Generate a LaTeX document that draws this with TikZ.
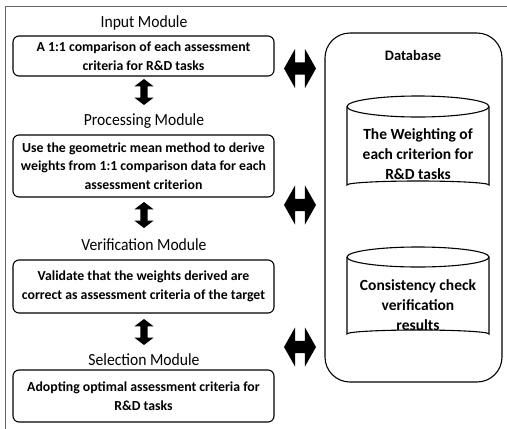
\documentclass[tikz,border=0pt]{standalone}
\usepackage{fontspec}
\usepackage{graphicx}
\setmainfont{Carlito}
\usetikzlibrary{shapes.arrows}
\newcommand{\ttl}[1]{\scalebox{0.92}[1]{#1}}
\begin{document}
\begin{tikzpicture}[x=1pt,y=-1pt,
 modbox/.style={draw, line width=1.1pt, rounded corners=6pt, minimum width=261pt, align=center, font=\bfseries\fontsize{13.8}{18.5}\selectfont, inner sep=0pt},
 title/.style={font=\fontsize{17}{19}\selectfont},
 harrow/.style={double arrow, fill=black, draw=none, double arrow head extend=13.5pt, inner sep=6pt, minimum height=32pt, double arrow tip angle=121},
 varrow/.style={double arrow, fill=black, draw=none, rotate=90, double arrow head extend=6pt, inner sep=3.5pt, minimum height=26pt, double arrow tip angle=105},
 cyltext/.style={align=center, font=\bfseries\fontsize{15.5}{20}\selectfont},
 cyl/.style={line width=1.1pt}]
\useasboundingbox (0,0) rectangle (507,429);
\draw[black!60, line width=1pt] (5,429) -- (5,6) -- (507,6);

% left modules
\node[title] (t1) at (144,23) {\ttl{Input Module}};
\node[modbox, minimum height=40pt] (b1) at (143.5,56) {A 1:1 comparison of each assessment\\criteria for R\&D tasks};
\node[varrow] (v1) at (144,92) {};
\node[title] (t2) at (144,121) {\ttl{Processing Module}};
\node[modbox, minimum height=62pt] (b2) at (143.5,166) {Use the geometric mean method to derive\\weights from 1:1 comparison data for each\\assessment criterion};
\node[varrow] (v2) at (144,215) {};
\node[title] (t3) at (144,245) {\ttl{Verification Module}};
\node[modbox, minimum height=53pt] (b3) at (143.5,286.5) {Validate that the weights derived are\\correct as assessment criteria of the target};
\node[varrow] (v3) at (144,332) {};
\node[title] (t4) at (144,360) {\ttl{Selection Module}};
\node[modbox, minimum height=52pt] (b4) at (143.5,396) {Adopting optimal assessment criteria for\\R\&D tasks};

% database
\node[draw, line width=1.1pt, rounded corners=25pt, minimum width=177pt, minimum height=349pt] (db) at (413.5,207.5) {};
\node[font=\bfseries\fontsize{14.5}{16}\selectfont] (dbt) at (413,55) {Database};

% cylinder 1
\draw[cyl] (418,106.5) ellipse [x radius=71, y radius=10.5];
\draw[cyl] (347,106.5) -- (347,185) arc[start angle=180, end angle=360, x radius=71, y radius=4] -- (489,106.5);
\node[cyltext] (c1) at (418,154) {The Weighting of\\each criterion for\\R\&D tasks};

% cylinder 2
\draw[cyl] (418,257) ellipse [x radius=71, y radius=10];
\draw[cyl] (347,257) -- (347,334) arc[start angle=180, end angle=360, x radius=71, y radius=4] -- (489,257);
\node[cyltext] (c2) at (418,305) {Consistency check\\verification\\results};

% horizontal arrows
\node[harrow] (h1) at (300,68.5) {};
\node[harrow] (h2) at (300,205) {};
\node[harrow] (h3) at (300,347) {};
\end{tikzpicture}
\end{document}
